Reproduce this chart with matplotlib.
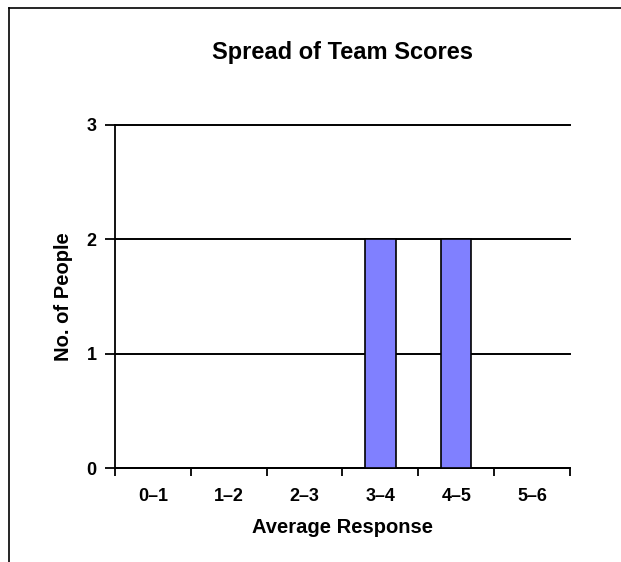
import numpy as np
import matplotlib.pyplot as plt
from matplotlib.lines import Line2D

# Data
categories = ['0\u20131', '1\u20132', '2\u20133', '3\u20134', '4\u20135', '5\u20136']
counts = [0, 0, 0, 2, 2, 0]
y_ticks = [0, 1, 2, 3]

plt.rcParams['font.family'] = ['Liberation Sans', 'DejaVu Sans']

fig = plt.figure(figsize=(6.21, 5.62), dpi=100)
ax = fig.add_axes([0.185, 0.167, 0.733, 0.611])

x = np.arange(len(categories))
ax.bar(x, counts, width=0.4, color='#8080FF', edgecolor='black', linewidth=1.2, zorder=3)

ax.set_xlim(-0.5, len(categories) - 0.5)
ax.set_ylim(0, 3)
ax.set_yticks(y_ticks)
ax.set_yticklabels([str(v) for v in y_ticks], fontsize=13, fontweight='bold')
ax.yaxis.grid(True, color='black', linewidth=1.4, zorder=0)
ax.set_axisbelow(True)
for gl in ax.get_ygridlines():
    gl.set_clip_on(False)

# category labels centered, ticks on category boundaries
ax.set_xticks(x)
ax.set_xticklabels(categories, fontsize=13, fontweight='bold')
ax.tick_params(axis='x', which='major', length=0, pad=14)
ax.set_xticks(np.arange(len(categories) + 1) - 0.5, minor=True)
ax.tick_params(axis='x', which='minor', length=6, width=1.3, direction='out')
ax.tick_params(axis='y', length=7, width=1.3, direction='out', pad=6)

for side in ['top', 'right']:
    ax.spines[side].set_visible(False)
ax.spines['left'].set_linewidth(1.3)
ax.spines['bottom'].set_linewidth(1.3)

ax.set_xlabel('Average Response', fontsize=14.5, fontweight='bold', labelpad=10)
ax.set_ylabel('No. of People', fontsize=14.5, fontweight='bold', labelpad=10)
ax.set_title('Spread of Team Scores', fontsize=17, fontweight='bold', pad=47)

# frame lines of the original chart object (top and left only)
fig.add_artist(Line2D([9 / 621, 9 / 621], [0, 1 - 8 / 562], transform=fig.transFigure, color='black', linewidth=1.2))
fig.add_artist(Line2D([9 / 621, 1], [1 - 8 / 562, 1 - 8 / 562], transform=fig.transFigure, color='black', linewidth=1.2))

fig.savefig('out.png', dpi=100, facecolor='white')
